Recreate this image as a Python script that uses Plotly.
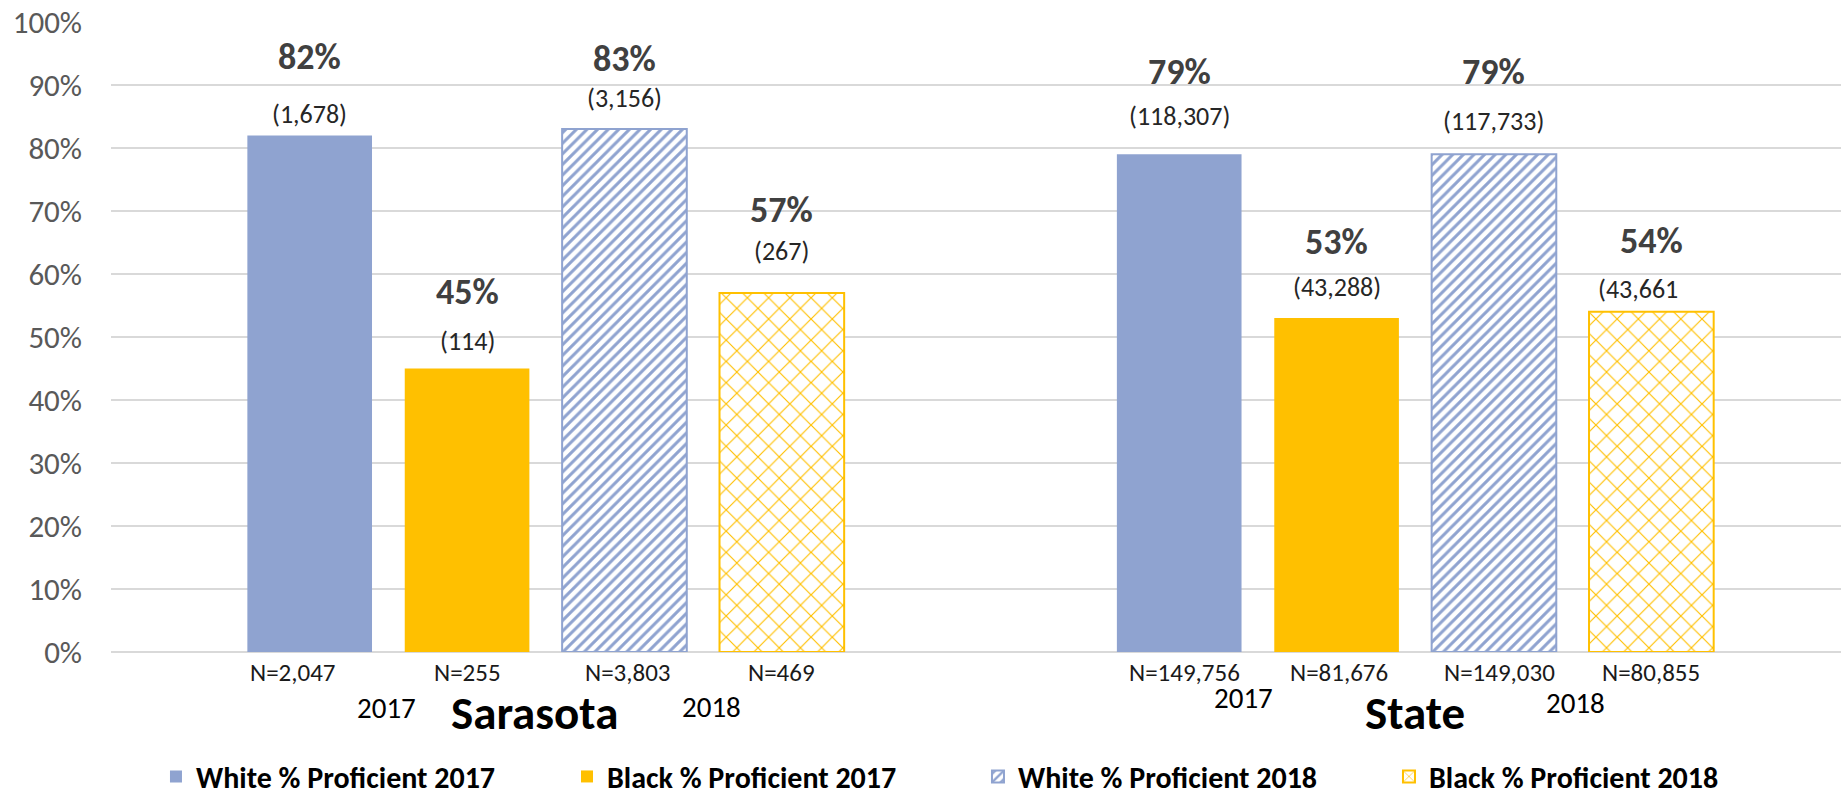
import plotly.graph_objects as go

# ---- data ----
groups = ["Sarasota", "State"]
series_names = ["White % Proficient 2017", "Black % Proficient 2017",
                "White % Proficient 2018", "Black % Proficient 2018"]
white_2017 = [0.82, 0.79]
black_2017 = [0.45, 0.53]
white_2018 = [0.83, 0.79]
black_2018 = [0.57, 0.54]
white_2017_count = ["(1,678)", "(118,307)"]
black_2017_count = ["(114)", "(43,288)"]
white_2018_count = ["(3,156)", "(117,733)"]
black_2018_count = ["(267)", "(43,661"]
white_2017_n = [2047, 149756]
black_2017_n = [255, 81676]
white_2018_n = [3803, 149030]
black_2018_n = [469, 80855]
year_labels = ["2017", "2018"]
y_ticks = [0, 0.1, 0.2, 0.3, 0.4, 0.5, 0.6, 0.7, 0.8, 0.9, 1.0]

values = [white_2017, black_2017, white_2018, black_2018]
counts = [white_2017_count, black_2017_count, white_2018_count, black_2018_count]
ns = [white_2017_n, black_2017_n, white_2018_n, black_2018_n]

# ---- style ----
FONT = "Calibri, Carlito, Lato, sans-serif"
BLUE = "#8FA3D0"
GOLD = "#FFC000"
BARGAP = 0.276
BARGROUPGAP = 0.208
slot = (1 - BARGAP) / 4
offsets = [(i - 1.5) * slot for i in range(4)]

# label offsets (px above bar top) per [series][group]
pct_shift = [[78, 82], [77, 76], [70, 82], [83, 71]]
cnt_shift = [[20, 37], [27, 30], [30, 32], [41, 22]]
n_xshift = [[-17, 5], [0, 2], [4, 6], [0, 0]]

fig = go.Figure()
styles = [
    dict(color=BLUE, line=dict(width=0)),
    dict(color=GOLD, line=dict(width=0)),
    dict(color="white", line=dict(color=BLUE, width=2),
         pattern=dict(shape="/", fgcolor=BLUE, bgcolor="white", size=7.5, solidity=0.4, fillmode="replace")),
    dict(color="white", line=dict(color=GOLD, width=2),
         pattern=dict(shape="x", fgcolor=GOLD, bgcolor="white", size=15, solidity=0.15, fillmode="replace")),
]
for name, vals, st in zip(series_names, values, styles):
    fig.add_trace(go.Bar(x=groups, y=vals, name=name, marker=st, hoverinfo="skip"))

ann = []
for s in range(4):
    for g in range(2):
        xb = g + offsets[s]
        v = values[s][g]
        ann.append(dict(x=xb, y=v, xref="x", yref="y", text=f"<b>{round(v*100)}%</b>",
                        showarrow=False, yanchor="middle", yshift=pct_shift[s][g],
                        font=dict(family=FONT, size=36, color="#404040")))
        ann.append(dict(x=xb, y=v, xref="x", yref="y", text=counts[s][g],
                        showarrow=False, yanchor="middle", yshift=cnt_shift[s][g] + 1,
                        xshift=(-13 if not counts[s][g].endswith(")") else 0),
                        font=dict(family=FONT, size=26, color="#262626")))
        ann.append(dict(x=xb, y=0, xref="x", yref="y", text=f"N={ns[s][g]:,}",
                        showarrow=False, yanchor="middle", yshift=-20, xshift=n_xshift[s][g],
                        font=dict(family=FONT, size=25, color="#1a1a1a")))

year_pos = [[(-0.183, -56), (0.191, -55)], [(0.803, -46), (1.184, -51)]]
for g in range(2):
    for k in range(2):
        xp, ys = year_pos[g][k]
        ann.append(dict(x=xp, y=0, xref="x", yref="y", text=year_labels[k], showarrow=False,
                        yanchor="middle", yshift=ys,
                        font=dict(family=FONT, size=29, color="black")))
group_x = [-0.0135, 0.0]
for g in range(2):
    ann.append(dict(x=g + group_x[g], y=0, xref="x", yref="y", text=f"<b>{groups[g]}</b>",
                    showarrow=False, yanchor="middle", yshift=-61,
                    font=dict(family=FONT, size=47, color="black")))

fig.update_layout(
    width=1841, height=798,
    margin=dict(l=111, r=0, t=22, b=146),
    paper_bgcolor="white", plot_bgcolor="white",
    barmode="group", bargap=BARGAP, bargroupgap=BARGROUPGAP,
    annotations=ann,
    legend=dict(orientation="h", x=0.026, xanchor="left", y=0.027, yanchor="middle",
                yref="container",
                font=dict(family=FONT, size=30, color="black", weight="bold"),
                entrywidth=366, entrywidthmode="pixels", traceorder="normal"),
    showlegend=True,
)
fig.update_xaxes(type="category", range=[-0.5, 1.4896], showticklabels=False,
                 showgrid=False, zeroline=False, showline=False, fixedrange=True)
fig.update_yaxes(range=[0, 1.0], tickvals=y_ticks, tickformat=".0%",
                 showgrid=True, gridcolor="#D9D9D9", gridwidth=2,
                 zeroline=True, zerolinecolor="#D9D9D9", zerolinewidth=2,
                 showline=False, ticks="", ticklabelstandoff=28,
                 tickfont=dict(family=FONT, size=31, color="#595959"), fixedrange=True)

fig.write_html("out.html", config={"displayModeBar": False},
               post_script="document.body.style.margin='0px';")
